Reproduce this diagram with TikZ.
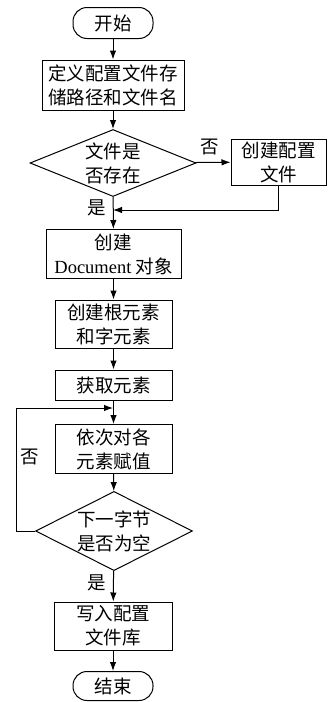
\documentclass[tikz,border=0pt]{standalone}
\usepackage{fontspec}
\setmainfont{Liberation Serif}
\newfontfamily\cjk{Noto Sans CJK SC}
\newfontfamily\lat{Liberation Serif}
\usetikzlibrary{shapes.geometric,arrows.meta}

\begin{document}
\begin{tikzpicture}[x=1pt,y=-1pt,
    every node/.style={font=\cjk\fontsize{18.5}{24}\selectfont, align=center, inner sep=0pt},
    box/.style={draw, line width=1pt, minimum width=117pt, minimum height=48pt},
    term/.style={draw, line width=1pt, rounded corners=14pt, minimum width=80pt, minimum height=31pt},
    decide/.style={draw, line width=1pt, diamond, aspect=2.4},
    flow/.style={line width=1pt, -{Latex[length=9pt,width=6.5pt]}}]

    \useasboundingbox (0,0) rectangle (327,702);

    % main column
    \node[term] (start) at (113,23) {开始};
    \node[box, minimum width=142pt, minimum height=50pt] (def) at (113,85) {定义配置文件存\\储路径和文件名};
    \node[decide, minimum width=166pt, minimum height=67pt] (chk) at (113,163) {文件是\\否存在};
    \node[box, minimum width=95pt, minimum height=46pt] (create) at (278.5,162) {创建配置\\文件};
    \node[box, minimum width=135pt, minimum height=49pt] (doc) at (113.5,254) {创建\\{\lat Document} 对象};
    \node[box] (root) at (113.5,324) {创建根元素\\和字元素};
    \node[box, minimum height=30pt] (get) at (113.5,385) {获取元素};
    \node[box, minimum height=49pt] (assign) at (113.5,449) {依次对各\\元素赋值};
    \node[decide, aspect=1.95, minimum width=157pt, minimum height=78pt] (next) at (114,531) {下一字节\\是否为空};
    \node[box, minimum width=118pt] (write) at (113,626) {写入配置\\文件库};
    \node[term, minimum height=29pt] (stop) at (113,686) {结束};

    % labels
    \node (no1) at (210,147) {否};
    \node (yes1) at (97,208) {是};
    \node (no2) at (30,457) {否};
    \node (yes2) at (97,583) {是};

    \coordinate (j1) at (113,210);
    \coordinate (j2) at (113,408);

    \draw[flow] (start) -- (def);
    \draw[flow] (def) -- (chk);
    \draw[flow] (chk) -- (create);
    \draw[flow] (chk) -- (doc);
    \draw[flow] (create.south) |- (j1);
    \draw[flow] (doc) -- (root);
    \draw[flow] (root) -- (get);
    \draw[flow] (get) -- (assign);
    \draw[flow] (next.west) -- (16,531) |- (j2);
    \draw[flow] (assign) -- (next);
    \draw[flow] (next) -- (write);
    \draw[flow] (write) -- (stop);

\end{tikzpicture}
\end{document}
